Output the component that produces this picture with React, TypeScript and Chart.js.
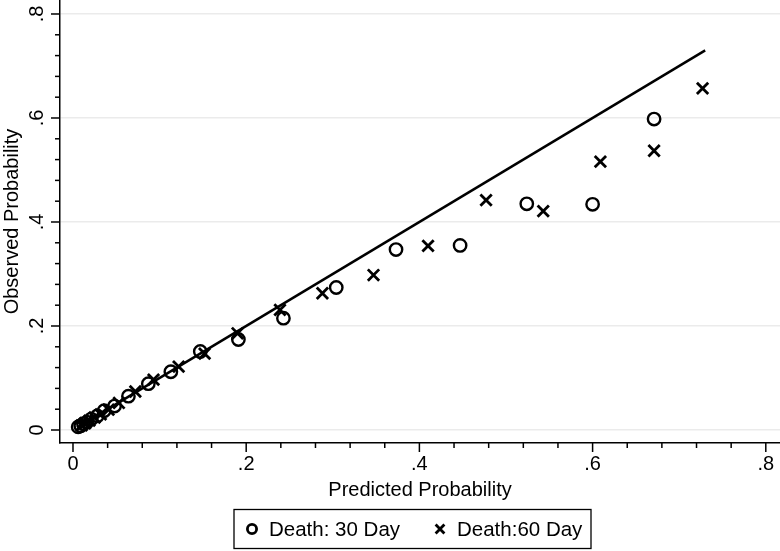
import React, { useEffect, useRef } from "react";
import { Chart, registerables } from "chart.js";

Chart.register(...registerables);

// Death: 30 Day (predicted, observed)
const pred30 = [0.006, 0.009, 0.012, 0.016, 0.021, 0.028, 0.036, 0.048, 0.064, 0.087, 0.113, 0.147, 0.191, 0.243, 0.304, 0.373, 0.447, 0.524, 0.6, 0.671];
const obs30 = [0.006, 0.008, 0.012, 0.015, 0.021, 0.027, 0.037, 0.046, 0.065, 0.089, 0.112, 0.151, 0.174, 0.215, 0.274, 0.347, 0.355, 0.435, 0.434, 0.598];

// Death: 60 Day (predicted, observed)
const pred60 = [0.01, 0.014, 0.019, 0.025, 0.032, 0.041, 0.053, 0.072, 0.093, 0.122, 0.152, 0.19, 0.239, 0.288, 0.347, 0.41, 0.477, 0.543, 0.609, 0.671, 0.727];
const obs60 = [0.009, 0.013, 0.018, 0.024, 0.03, 0.039, 0.052, 0.074, 0.097, 0.122, 0.147, 0.186, 0.231, 0.263, 0.298, 0.354, 0.442, 0.421, 0.516, 0.537, 0.657];

// Reference line (perfect calibration)
const refX = [0.005, 0.73];
const refY = [0.005, 0.73];

const majorTicks = [0, 0.2, 0.4, 0.6, 0.8];
const tickLabels = ["0", ".2", ".4", ".6", ".8"];
const minorStep = 0.04;
const minorCount = 20;
const legendLabels = ["Death: 30 Day", "Death:60 Day"];
const xTitle = "Predicted Probability";
const yTitle = "Observed Probability";

const FONT = '"Liberation Sans", Arial, Helvetica, sans-serif';

const decor = {
  id: "decor",
  afterDraw(chart: any) {
    const ctx = chart.ctx as CanvasRenderingContext2D;
    const xs = chart.scales.x;
    const ys = chart.scales.y;
    const area = chart.chartArea;
    ctx.save();
    ctx.strokeStyle = "#000";
    ctx.fillStyle = "#000";
    ctx.lineWidth = 1.5;
    // ticks (major + minor)
    for (let i = 0; i <= minorCount; i++) {
      const v = i * minorStep;
      const major = i % 5 === 0;
      const len = major ? 9 : 5;
      const px = xs.getPixelForValue(v);
      ctx.beginPath();
      ctx.moveTo(px, area.bottom);
      ctx.lineTo(px, area.bottom + len);
      ctx.stroke();
      const py = ys.getPixelForValue(v);
      ctx.beginPath();
      ctx.moveTo(area.left, py);
      ctx.lineTo(area.left - len, py);
      ctx.stroke();
    }
    // tick labels
    ctx.font = `20px ${FONT}`;
    ctx.textAlign = "center";
    ctx.textBaseline = "alphabetic";
    majorTicks.forEach((v, i) => {
      const px = xs.getPixelForValue(v);
      ctx.fillText(tickLabels[i], px, area.bottom + 27);
      const py = ys.getPixelForValue(v);
      ctx.save();
      ctx.translate(area.left - 17, py);
      ctx.rotate(-Math.PI / 2);
      ctx.fillText(tickLabels[i], 0, 0);
      ctx.restore();
    });
    // legend
    const bx = 234, by = 509.5, bw = 357, bh = 39;
    ctx.lineWidth = 1.3;
    ctx.strokeRect(bx, by, bw, bh);
    const cy = by + bh / 2;
    ctx.lineWidth = 2.8;
    ctx.beginPath();
    ctx.arc(bx + 18, cy, 4.6, 0, Math.PI * 2);
    ctx.stroke();
    const mx = bx + 206, h = 4.4;
    ctx.beginPath();
    ctx.moveTo(mx - h, cy - h);
    ctx.lineTo(mx + h, cy + h);
    ctx.moveTo(mx - h, cy + h);
    ctx.lineTo(mx + h, cy - h);
    ctx.stroke();
    ctx.textAlign = "left";
    ctx.font = `20.5px ${FONT}`;
    ctx.fillText(legendLabels[0], bx + 35, cy + 7);
    ctx.fillText(legendLabels[1], bx + 223, cy + 7);
    ctx.restore();
  },
};

export default function App() {
  const ref = useRef<HTMLCanvasElement>(null);
  useEffect(() => {
    document.body.style.margin = "0";
    const cfg: any = {
      type: "scatter",
      data: {
        datasets: [
          {
            label: legendLabels[0],
            data: pred30.map((x, i) => ({ x, y: obs30[i] })),
            pointStyle: "circle",
            pointRadius: 6.2,
            borderWidth: 2.4,
            borderColor: "#000",
            backgroundColor: "rgba(0,0,0,0)",
          },
          {
            label: legendLabels[1],
            data: pred60.map((x, i) => ({ x, y: obs60[i] })),
            pointStyle: "crossRot",
            pointRadius: 8,
            borderWidth: 2.8,
            borderColor: "#000",
            backgroundColor: "#000",
          },
          {
            label: "line",
            data: refX.map((x, i) => ({ x, y: refY[i] })),
            showLine: true,
            pointRadius: 0,
            borderWidth: 2.5,
            borderColor: "#000",
            backgroundColor: "#000",
          },
        ],
      },
      options: {
        responsive: false,
        animation: false,
        devicePixelRatio: 1,
        layout: { padding: 0, autoPadding: false },
        plugins: { legend: { display: false }, tooltip: { enabled: false } },
        scales: {
          x: {
            type: "linear",
            min: -0.015,
            max: 0.8164,
            afterBuildTicks: (s: any) => {
              s.ticks = majorTicks.map((v) => ({ value: v }));
            },
            afterFit: (s: any) => {
              s.height = 108;
            },
            ticks: { display: false },
            grid: { display: false, drawTicks: false },
            border: { display: true, color: "#000", width: 1.5 },
            title: {
              display: true,
              text: xTitle,
              color: "#000",
              font: { family: FONT, size: 20 },
              padding: { top: 0, bottom: 49 },
            },
          },
          y: {
            type: "linear",
            min: -0.025,
            max: 0.8269,
            afterBuildTicks: (s: any) => {
              s.ticks = majorTicks.map((v) => ({ value: v }));
            },
            afterFit: (s: any) => {
              s.width = 60;
            },
            ticks: { display: false },
            grid: { color: "#ebebeb", lineWidth: 1.5, drawTicks: false },
            border: { display: true, color: "#000", width: 1.5 },
            title: {
              display: true,
              text: yTitle,
              color: "#000",
              font: { family: FONT, size: 20 },
              padding: { top: 0, bottom: 0 },
            },
          },
        },
      },
      plugins: [decor],
    };
    const chart = new Chart(ref.current as HTMLCanvasElement, cfg);
    return () => chart.destroy();
  }, []);
  return (
    <div style={{ width: 780, height: 551 }}>
      <canvas ref={ref} width={780} height={551} style={{ display: "block" }} />
    </div>
  );
}
